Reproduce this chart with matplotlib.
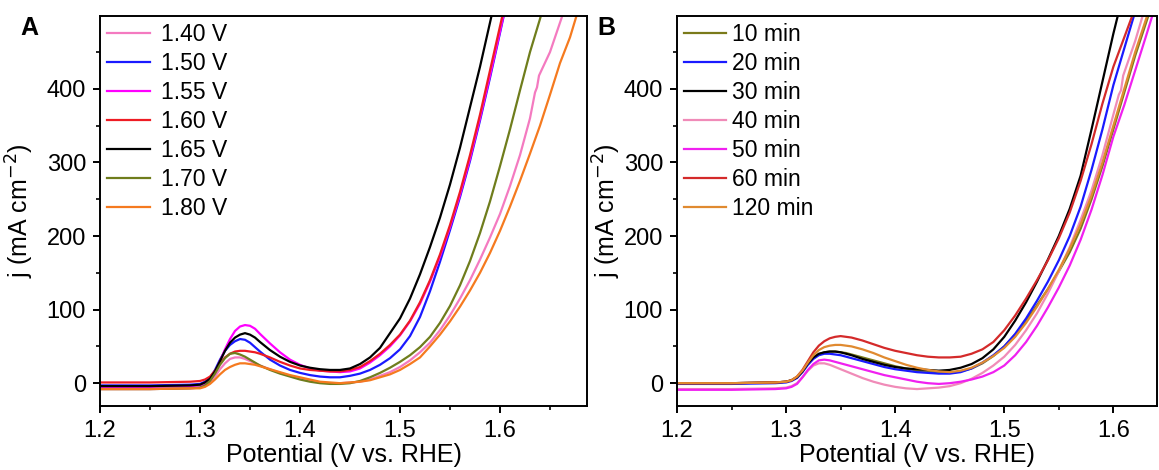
import matplotlib
matplotlib.use("Agg")
import matplotlib.pyplot as plt
from matplotlib.ticker import MultipleLocator

plt.rcParams['font.family'] = ['Liberation Sans', 'DejaVu Sans']

# common potential grid (V vs. RHE)
xgrid = [1.20, 1.25, 1.29, 1.30, 1.305, 1.31, 1.315, 1.32, 1.325, 1.33, 1.335, 1.34, 1.345,
         1.35, 1.355, 1.36, 1.37, 1.38, 1.39, 1.40, 1.41, 1.42, 1.43, 1.44, 1.45, 1.46,
         1.47, 1.48, 1.49, 1.50, 1.51, 1.52, 1.53, 1.54, 1.55, 1.56, 1.57, 1.58, 1.59,
         1.60, 1.61, 1.62, 1.63, 1.64, 1.65, 1.66, 1.67, 1.68, 1.69]

# ---- panel A: different potentials ----
a_165 = [-4, -4, -3, -2, 1, 6, 16, 30, 44, 55, 62, 66, 68, 66, 62, 56, 45, 36, 29, 24, 21,
         19, 18, 18, 20, 26, 35, 48, 68, 88, 115, 148, 185, 225, 270, 320, 375, 430, 490,
         550]
a_160 = [1, 1, 2, 3, 5, 9, 17, 27, 35, 40, 43, 44, 44, 43, 42, 40, 35, 29, 24, 20, 18, 17,
         16, 16, 18, 22, 30, 40, 52, 66, 85, 110, 140, 175, 215, 260, 310, 365, 425, 485,
         545]
a_155 = [-5, -5, -4, -3, -1, 4, 14, 30, 46, 60, 71, 77, 79, 78, 74, 67, 54, 42, 32, 25, 20,
         17, 16, 15, 16, 20, 28, 38, 50, 65, 84, 108, 138, 172, 212, 256, 305, 360, 418,
         478, 540]
a_150 = [-3, -3, -2, -1, 2, 7, 18, 32, 44, 52, 57, 60, 59, 55, 49, 43, 32, 24, 18, 14, 11,
         9, 8, 8, 10, 13, 18, 25, 34, 46, 64, 90, 125, 165, 208, 253, 302, 357, 415, 476,
         538]
a_170 = [-8, -8, -7, -6, -3, 3, 13, 25, 34, 40, 41, 39, 36, 32, 28, 24, 18, 13, 9, 5, 2,
         0, -1, -1, 0, 3, 8, 14, 21, 29, 38, 49, 63, 82, 105, 133, 166, 204, 247, 295, 345,
         398, 450, 495, 545]
a_180 = [-8, -8, -7, -7, -5, -1, 5, 12, 18, 22, 25, 27, 27, 26, 25, 23, 19, 15, 11, 8, 5,
         2, 1, 0, 1, 2, 4, 8, 12, 18, 26, 35, 50, 66, 84, 104, 126, 150, 177, 207, 240,
         275, 312, 350, 392, 435, 470, 515, 560]
# 1.40 V has a small step near the top, so it gets its own x list
x_140 = xgrid[:43] + [1.635, 1.637, 1.639, 1.65, 1.66, 1.67]
a_140 = [-8, -8, -7, -6, -4, 1, 9, 19, 27, 33, 35, 35, 33, 30, 27, 24, 19, 14, 10, 6, 3,
         1, 0, 0, 1, 2, 5, 10, 15, 22, 31, 42, 55, 72, 92, 115, 140, 168, 198, 230, 268,
         310, 360, 395, 402, 418, 450, 490, 530]

# ---- panel B: different times ----
b_10 = [0, 0, 1, 2, 4, 8, 16, 26, 34, 39, 42, 43, 43, 42, 41, 39, 35, 31, 27, 23, 20, 17,
        15, 14, 14, 16, 20, 27, 37, 50, 66, 85, 106, 128, 152, 178, 210, 250, 295, 345,
        395, 445, 490, 535]
b_20 = [-1, -1, 0, 1, 3, 7, 15, 25, 33, 38, 40, 40, 39, 38, 36, 34, 30, 26, 22, 19, 17,
        15, 14, 13, 13, 15, 20, 28, 38, 50, 67, 88, 112, 138, 167, 200, 240, 290, 345, 405,
        455, 505]
b_30 = [0, 0, 1, 2, 4, 8, 16, 27, 35, 40, 42, 43, 43, 42, 40, 38, 33, 29, 25, 22, 20, 19,
        18, 17, 18, 21, 26, 34, 46, 63, 85, 110, 138, 168, 200, 237, 282, 345, 410, 475,
        535]
b_50 = [-9, -9, -8, -7, -5, -1, 8, 18, 26, 31, 32, 31, 29, 27, 25, 23, 19, 15, 11, 8, 5,
        2, 0, -1, 0, 2, 5, 9, 15, 24, 38, 56, 78, 103, 130, 160, 195, 236, 283, 335, 378,
        425, 472, 520]
b_60 = [0, 0, 1, 2, 4, 9, 18, 30, 42, 51, 57, 61, 63, 64, 63, 62, 58, 53, 48, 44, 41, 38,
        36, 35, 35, 36, 40, 46, 56, 72, 92, 115, 140, 167, 197, 232, 275, 325, 380, 430,
        470, 510]
b_120 = [0, 0, 1, 2, 4, 9, 17, 28, 38, 45, 49, 51, 52, 52, 51, 50, 46, 41, 35, 30, 25,
         21, 18, 16, 15, 17, 21, 28, 37, 48, 63, 82, 104, 128, 154, 183, 216, 255, 300,
         350, 400, 450, 495, 540]
# 40 min also has a small step near the top
x_40 = xgrid[:40] + [1.605, 1.607, 1.609, 1.62, 1.63]
b_40 = [-8, -8, -7, -6, -4, 0, 8, 17, 24, 27, 27, 25, 22, 19, 16, 13, 7, 2, -2, -5, -7,
        -8, -7, -6, -4, 0, 6, 14, 24, 36, 52, 72, 95, 122, 152, 185, 222, 262, 310, 365,
        392, 398, 418, 465, 515]

fig = plt.figure(figsize=(11.59, 4.70), dpi=100)
axA = fig.add_axes([100/1159, 64/470, 487/1159, 390/470])
axB = fig.add_axes([677/1159, 64/470, 480/1159, 390/470])

lw = 1.6
axA.plot(x_140, a_140, color='#f47ac0', lw=lw, label='1.40 V')
axA.plot(xgrid[:len(a_150)], a_150, color='#1a1aff', lw=lw, label='1.50 V')
axA.plot(xgrid[:len(a_155)], a_155, color='#ff00ff', lw=lw, label='1.55 V')
axA.plot(xgrid[:len(a_160)], a_160, color='#ee1c24', lw=lw, label='1.60 V')
axA.plot(xgrid[:len(a_165)], a_165, color='black', lw=lw, label='1.65 V')
axA.plot(xgrid[:len(a_170)], a_170, color='#6f7d1c', lw=lw, label='1.70 V')
axA.plot(xgrid[:len(a_180)], a_180, color='#f57a1f', lw=lw, label='1.80 V')

axB.plot(xgrid[:len(b_10)], b_10, color='#7a7a1a', lw=lw, label='10 min')
axB.plot(xgrid[:len(b_20)], b_20, color='#1a1aff', lw=lw, label='20 min')
axB.plot(xgrid[:len(b_30)], b_30, color='black', lw=lw, label='30 min')
axB.plot(x_40, b_40, color='#f08bb8', lw=lw, label='40 min')
axB.plot(xgrid[:len(b_50)], b_50, color='#f020f0', lw=lw, label='50 min')
axB.plot(xgrid[:len(b_60)], b_60, color='#d42a2a', lw=lw, label='60 min')
axB.plot(xgrid[:len(b_120)], b_120, color='#e08a30', lw=lw, label='120 min')

axA.set_xlim(1.2, 1.687)
axB.set_xlim(1.2, 1.640)

for ax in (axA, axB):
    ax.set_ylim(-31, 499)
    ax.xaxis.set_major_locator(MultipleLocator(0.1))
    ax.xaxis.set_minor_locator(MultipleLocator(0.05))
    ax.yaxis.set_major_locator(MultipleLocator(100))
    ax.yaxis.set_minor_locator(MultipleLocator(50))
    ax.tick_params(which='major', length=5, width=1.4, labelsize=17, direction='out', pad=5)
    ax.tick_params(which='minor', length=3, width=1.2, direction='out')
    for s in ax.spines.values():
        s.set_linewidth(1.4)
    ax.set_xlabel('Potential (V vs. RHE)', fontsize=18, labelpad=1)
    ax.set_ylabel('j (mA cm$^{-2}$)', fontsize=18)

axA.yaxis.set_label_coords(-0.131, 0.5)
axB.yaxis.set_label_coords(-0.112, 0.5)

axA.legend(loc='upper left', frameon=False, fontsize=16.5, handlelength=1.9,
           handletextpad=0.45, labelspacing=0.26, borderaxespad=0.2, borderpad=0.1)
axB.legend(loc='upper left', frameon=False, fontsize=16.5, handlelength=1.85,
           handletextpad=0.25, labelspacing=0.26, borderaxespad=0.2, borderpad=0.1)

fig.text(20/1159, 1 - 28/470, 'A', fontsize=18, fontweight='bold', va='center')
fig.text(597/1159, 1 - 28/470, 'B', fontsize=18, fontweight='bold', va='center')

fig.savefig('out.png', dpi=100)
